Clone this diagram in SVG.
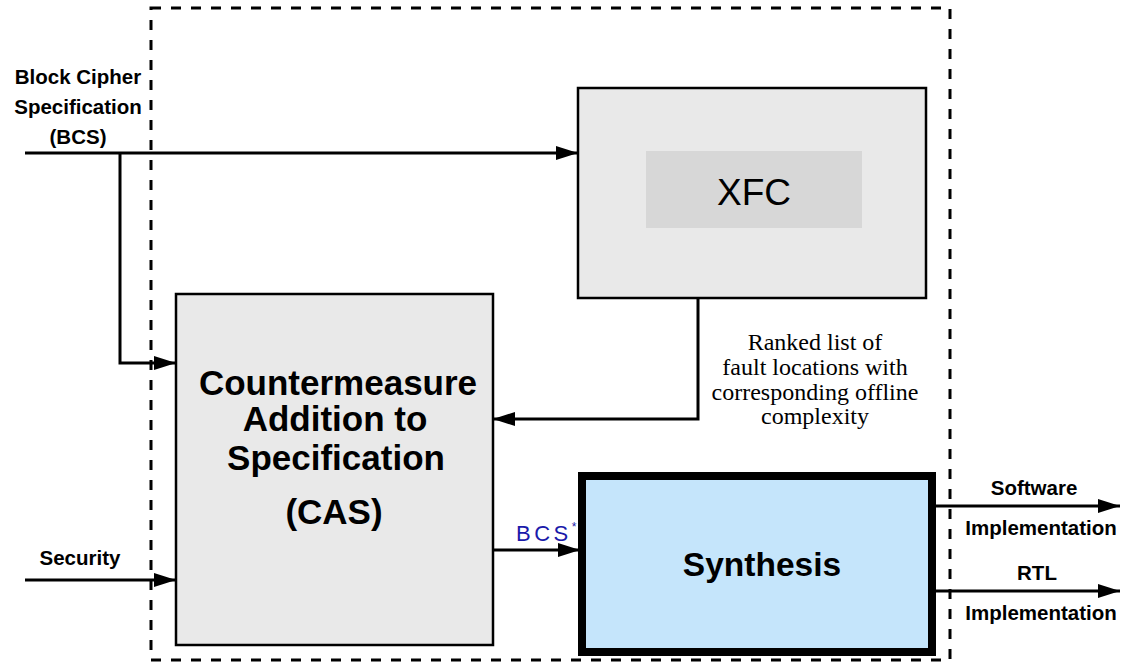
<svg xmlns="http://www.w3.org/2000/svg" width="1124" height="664" viewBox="0 0 1124 664">
  <style>
    .lbl { font-family: "Liberation Sans", Arial, sans-serif; font-weight: bold; fill: #000; text-anchor: middle; font-size: 20.5px; }
    .big { font-family: "Liberation Sans", Arial, sans-serif; font-weight: bold; fill: #000; text-anchor: middle; font-size: 35px; }
    .serif { font-family: "Liberation Serif", "Times New Roman", serif; fill: #000; text-anchor: middle; font-size: 24px; }
    .wire { fill: none; stroke: #000; stroke-width: 3; }
  </style>
  <defs>
    <marker id="arrowL" markerWidth="22" markerHeight="14" refX="22" refY="7" orient="auto" markerUnits="userSpaceOnUse">
      <path d="M0,0 L22,7 L0,14 Z" fill="#000"/>
    </marker>
  </defs>

  <!-- system boundary -->
  <rect x="151" y="8" width="799" height="652" fill="none" stroke="#000" stroke-width="3" stroke-dasharray="10,10"/>

  <!-- XFC -->
  <g id="xfc">
    <rect x="578" y="88" width="348" height="210" fill="#e9e9e9" stroke="#000" stroke-width="2.5"/>
    <rect x="646" y="151" width="216" height="77" fill="#d7d7d7"/>
    <text x="754" y="205" font-family="'Liberation Sans', Arial, sans-serif" font-size="37" text-anchor="middle" fill="#000">XFC</text>
  </g>

  <!-- CAS -->
  <g id="cas">
    <rect x="176" y="294" width="317" height="351" fill="#e9e9e9" stroke="#000" stroke-width="2.5"/>
    <text class="big" x="338" y="395">Countermeasure</text>
    <text class="big" x="335" y="431">Addition to</text>
    <text class="big" x="336" y="470">Specification</text>
    <text class="big" x="334" y="524">(CAS)</text>
  </g>

  <!-- Synthesis -->
  <g id="synthesis">
    <rect x="582" y="476" width="350" height="176" fill="#c5e5fb" stroke="#000" stroke-width="8"/>
    <text class="lbl" x="762" y="576" style="font-size:33.5px">Synthesis</text>
  </g>

  <!-- connectors -->
  <g id="connectors">
    <path class="wire" d="M25,153 H578" marker-end="url(#arrowL)"/>
    <path class="wire" d="M120,153 V363 H176" marker-end="url(#arrowL)"/>
    <path class="wire" d="M698,298 V419 H493" marker-end="url(#arrowL)"/>
    <path class="wire" d="M25,580 H176" marker-end="url(#arrowL)"/>
    <path class="wire" d="M493,550 H580" marker-end="url(#arrowL)"/>
    <path class="wire" d="M936,506 H1120" marker-end="url(#arrowL)"/>
    <path class="wire" d="M936,591 H1120" marker-end="url(#arrowL)"/>
  </g>

  <!-- labels -->
  <g id="labels">
    <text class="lbl" x="78" y="84">Block Cipher</text>
    <text class="lbl" x="78" y="114">Specification</text>
    <text class="lbl" x="78" y="144">(BCS)</text>
    <text class="lbl" x="80" y="565">Security</text>
    <text class="lbl" x="1034" y="495">Software</text>
    <text class="lbl" x="1041" y="535">Implementation</text>
    <text class="lbl" x="1037" y="580">RTL</text>
    <text class="lbl" x="1041" y="620">Implementation</text>
    <text class="serif" x="815" y="350">Ranked list of</text>
    <text class="serif" x="815" y="375">fault locations with</text>
    <text class="serif" x="815" y="400">corresponding offline</text>
    <text class="serif" x="815" y="424">complexity</text>
    <text x="516" y="541" font-family="'Liberation Sans', Arial, sans-serif" font-size="22" letter-spacing="3.5" fill="#1a1aaa">BCS<tspan font-size="12" dy="-10" letter-spacing="0">*</tspan></text>
  </g>
</svg>
